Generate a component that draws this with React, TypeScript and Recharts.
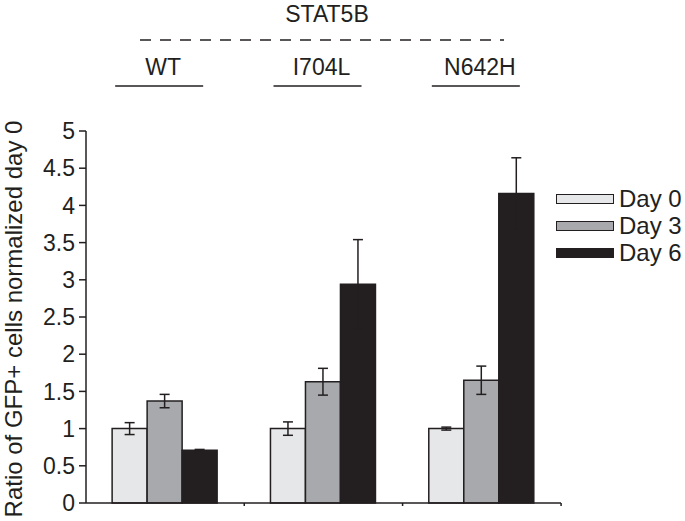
import { BarChart, Bar, XAxis, YAxis, ErrorBar } from 'recharts';

const groups = ['WT', 'I704L', 'N642H'];
const day0 = [1.0, 1.0, 1.0];
const day0Err = [0.08, 0.09, 0.02];
const day3 = [1.37, 1.63, 1.65];
const day3Err = [0.09, 0.18, 0.19];
const day6 = [0.71, 2.94, 4.16];
const day6Err = [0.01, 0.6, 0.48];
const yTicks = [0, 0.5, 1, 1.5, 2, 2.5, 3, 3.5, 4, 4.5, 5];

const series = [
    { key: 'day0', name: 'Day 0', fill: '#e6e7e8' },
    { key: 'day3', name: 'Day 3', fill: '#a7a9ac' },
    { key: 'day6', name: 'Day 6', fill: '#231f20' },
];

const data = groups.map((g, i) => ({
    name: g,
    day0: day0[i], day0Err: day0Err[i],
    day3: day3[i], day3Err: day3Err[i],
    day6: day6[i], day6Err: day6Err[i],
}));

const FONT = '"Liberation Sans", Arial, sans-serif';
const INK = '#231f20';

// group label with an underline above the plot
function TopTick(props: any) {
    const { x, payload } = props;
    return (
        <g>
            <text x={x - 2} y={75} textAnchor="middle" fontSize={23} fontFamily={FONT} fill={INK}>
                {payload.value}
            </text>
            <line x1={x - 50} x2={x + 38} y1={86} y2={86} stroke={INK} strokeWidth={1.5} />
        </g>
    );
}

// small tick marks at category boundaries
function BottomTick(props: any) {
    const { x, y, index } = props;
    const half = 79.25;
    return (
        <g>
            {index > 0 && <line x1={x - half} x2={x - half} y1={y - 8} y2={y - 5} stroke={INK} strokeWidth={1.5} />}
            {index === 2 && <line x1={x + half} x2={x + half} y1={y - 8} y2={y - 5} stroke={INK} strokeWidth={1.5} />}
        </g>
    );
}

function LegendBox() {
    return (
        <div style={{ position: 'absolute', left: 556, top: 185, fontFamily: FONT, fontSize: 24, color: INK, lineHeight: '27px' }}>
            {series.map((s) => (
                <div key={s.key} style={{ display: 'flex', alignItems: 'center', height: 27 }}>
                    <div style={{ width: 56, height: 8, background: s.fill, border: `1.5px solid ${INK}`, marginRight: 5 }} />
                    <span>{s.name}</span>
                </div>
            ))}
        </div>
    );
}

export default function App() {
    return (
        <div style={{ position: 'absolute', left: 0, top: 0, width: 685, height: 521, background: '#fff' }}>
            <svg width={685} height={60} style={{ position: 'absolute', left: 0, top: 0 }}>
                <text x={327} y={22} textAnchor="middle" fontSize={23} fontFamily={FONT} fill={INK}>STAT5B</text>
                <line x1={140} x2={504} y1={40} y2={40} stroke={INK} strokeWidth={1.5} strokeDasharray="11 9" />
            </svg>
            <BarChart
                width={685}
                height={521}
                data={data}
                margin={{ top: 0, right: 124, bottom: 0, left: 0 }}
                barCategoryGap="16.5%"
                barGap={0}
                style={{ position: 'absolute', left: 0, top: 0 }}
            >
                <XAxis xAxisId="top" dataKey="name" orientation="top" height={131} axisLine={false} tickLine={false} tick={<TopTick />} />
                <XAxis dataKey="name" height={18} axisLine={{ stroke: INK, strokeWidth: 1.5 }} tickLine={false} tick={<BottomTick />} />
                <YAxis
                    width={86}
                    domain={[0, 5]}
                    ticks={yTicks}
                    interval={0}
                    axisLine={{ stroke: INK, strokeWidth: 1.5 }}
                    tickLine={{ stroke: INK, strokeWidth: 1.5 }}
                    tickSize={7}
                    tickMargin={4}
                    tick={{ fontSize: 23, fontFamily: FONT, fill: INK }}
                    label={({ viewBox }: any) => (
                        <text
                            x={16}
                            y={viewBox.y + viewBox.height / 2 + 2}
                            transform={`rotate(-90 16 ${viewBox.y + viewBox.height / 2 + 2})`}
                            textAnchor="middle"
                            dominantBaseline="middle"
                            fontSize={24}
                            fontFamily={FONT}
                            fill={INK}
                        >
                            Ratio of GFP+ cells normalized day 0
                        </text>
                    )}
                />
                {series.map((s) => (
                    <Bar key={s.key} xAxisId={0} dataKey={s.key} name={s.name} fill={s.fill} stroke={INK} strokeWidth={1.5} isAnimationActive={false}>
                        <ErrorBar dataKey={`${s.key}Err`} width={5} stroke={INK} strokeWidth={1.5} />
                    </Bar>
                ))}
            </BarChart>
            <LegendBox />
        </div>
    );
}
